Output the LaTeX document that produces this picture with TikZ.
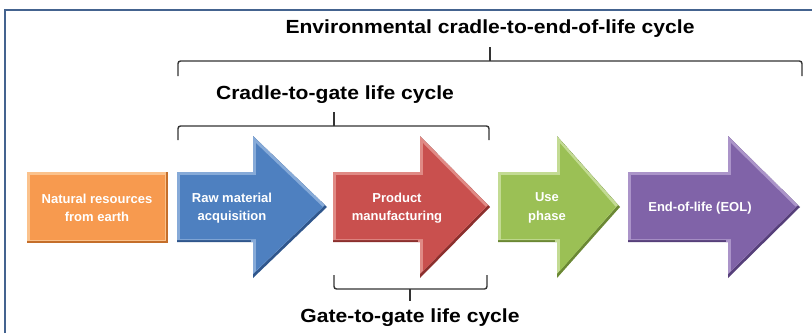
\documentclass[tikz,border=0pt]{standalone}
\usepackage{fontspec}
\setmainfont{Liberation Sans}
\usepackage{graphicx}
\definecolor{frame}{HTML}{44638F}
\definecolor{brc}{HTML}{333333}
\definecolor{orM}{HTML}{F79A4F}\definecolor{orL}{HTML}{FBC28C}\definecolor{orD}{HTML}{C46E2A}
\definecolor{blM}{HTML}{4E80C0}\definecolor{blL}{HTML}{86AAD8}\definecolor{blD}{HTML}{2F568C}
\definecolor{rdM}{HTML}{C9504E}\definecolor{rdL}{HTML}{E08A85}\definecolor{rdD}{HTML}{8C2F2D}
\definecolor{grM}{HTML}{9BC055}\definecolor{grL}{HTML}{C3DB93}\definecolor{grD}{HTML}{6B8834}
\definecolor{puM}{HTML}{8063A8}\definecolor{puL}{HTML}{AB94C9}\definecolor{puD}{HTML}{563F7A}
\newcommand\lcshape[4]{({#1+#4},{172+#4}) -- ({#2+#4},{172+#4}) -- ({#2+#4},{136+2.41*#4}) -- ({#3-1.41*#4},207) -- ({#2+#4},{278-2.41*#4}) -- ({#2+#4},{242-#4}) -- ({#1+#4},{242-#4}) -- cycle}
\newcommand\lcarrow[6]{%
  \fill[#6] \lcshape{#1}{#2}{#3}{0};
  \begin{scope}
    \clip \lcshape{#1}{#2}{#3}{0};
    \fill[#5,shift={(-2,-2)}] \lcshape{#1}{#2}{#3}{0};
  \end{scope}
  \fill[#4] \lcshape{#1}{#2}{#3}{3};
}
\newcommand\lcrect[7]{% x1 y1 x2 y2 main light dark
  \fill[#7] (#1,#2) rectangle (#3,#4);
  \begin{scope}
    \clip (#1,#2) rectangle (#3,#4);
    \fill[#6] ({#1-2},{#2-2}) rectangle ({#3-2},{#4-2});
  \end{scope}
  \fill[#5] ({#1+3},{#2+3}) rectangle ({#3-3},{#4-3});
}
\begin{document}
\begin{tikzpicture}[x=1pt,y=-1pt,
  boxtext/.style={text=white,align=center,font=\fontsize{13}{18.5}\selectfont\bfseries,inner sep=0pt},
  title/.style={text=black,inner sep=0pt,font=\fontsize{19}{22}\selectfont\bfseries},
  brace/.style={draw=brc,line width=1.4pt,rounded corners=2.5pt}]
\useasboundingbox (0,0) rectangle (812,333);
\fill[white] (0,0) rectangle (812,333);
% frame
\draw[frame,line width=1.5pt] (5,333) -- (5,10) -- (812,10);
% shapes
\lcrect{27}{172}{168}{243}{orM}{orL}{orD}
\lcarrow{177}{253}{327}{blM}{blL}{blD}
\lcarrow{333}{420}{490}{rdM}{rdL}{rdD}
\lcarrow{498}{557}{620}{grM}{grL}{grD}
\lcarrow{628}{728}{800}{puM}{puL}{puD}
% texts
\node[boxtext] (nat) at (97,208) {Natural resources\\from earth};
\node[boxtext] (raw) at (232,208) {Raw material\\acquisition};
\node[boxtext] (prod) at (397,208) {Product\\manufacturing};
\node[boxtext] (use) at (547,208) {Use\\phase};
\node[boxtext] (eol) at (700,208) {End-of-life (EOL)};
% titles
\node[title] (envt) at (490,29) {\scalebox{1.11}[1]{Environmental cradle-to-end-of-life cycle}};
\node[title] (c2g) at (335,95) {\scalebox{1.11}[1]{Cradle-to-gate life cycle}};
\node[title] (g2g) at (410,318) {\scalebox{1.11}[1]{Gate-to-gate life cycle}};
% braces
\coordinate (envL) at (178,76); \coordinate (envR) at (802,76); \coordinate (envT) at (490,47);
\draw[brace] (envL) -- (178,61) -- (802,61) -- (envR);
\draw[brc,line width=1.4pt] (490,61) -- (envT);
\coordinate (cgL) at (178,140); \coordinate (cgR) at (489,140); \coordinate (cgT) at (334,112);
\draw[brace] (cgL) -- (178,126) -- (489,126) -- (cgR);
\draw[brc,line width=1.4pt] (334,126) -- (cgT);
\coordinate (ggL) at (334,275); \coordinate (ggR) at (487,275); \coordinate (ggB) at (410,301);
\draw[brace] (ggL) -- (334,289) -- (487,289) -- (ggR);
\draw[brc,line width=1.4pt] (410,289) -- (ggB);
\end{tikzpicture}
\end{document}
